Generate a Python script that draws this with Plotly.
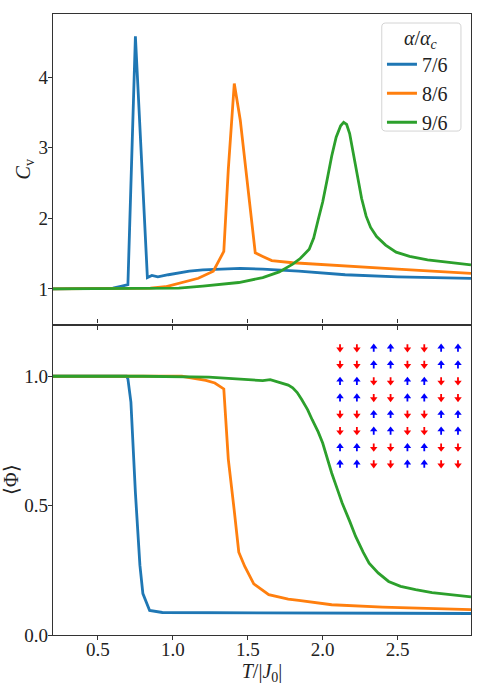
import plotly.graph_objects as go

# ---------------- data ----------------
T_cv_76 = [0.20, 0.30, 0.40, 0.50, 0.60, 0.66, 0.70, 0.75, 0.83, 0.86, 0.90, 0.97, 1.04, 1.11, 1.20, 1.31, 1.45, 1.60, 1.84, 2.15, 2.50, 2.99]
Cv_76 = [1.00, 1.00, 1.00, 1.00, 1.01, 1.04, 1.06, 4.58, 1.16, 1.19, 1.17, 1.20, 1.23, 1.25, 1.27, 1.28, 1.29, 1.28, 1.25, 1.20, 1.17, 1.15]

T_cv_86 = [0.20, 0.50, 0.70, 0.85, 0.95, 1.04, 1.17, 1.27, 1.34, 1.37, 1.41, 1.45, 1.51, 1.55, 1.60, 1.66, 1.80, 2.15, 2.50, 2.99]
Cv_86 = [1.00, 1.00, 1.00, 1.01, 1.03, 1.08, 1.15, 1.25, 1.53, 2.69, 3.91, 3.39, 2.22, 1.51, 1.46, 1.40, 1.37, 1.33, 1.28, 1.22]

T_cv_96 = [0.20, 0.60, 0.90, 1.04, 1.20, 1.44, 1.60, 1.71, 1.80, 1.85, 1.91, 1.94, 1.97, 2.00, 2.03, 2.06, 2.09, 2.12, 2.14, 2.16, 2.18, 2.20, 2.23, 2.26, 2.29, 2.32, 2.36, 2.42, 2.49, 2.58, 2.70, 2.85, 2.99]
Cv_96 = [1.00, 1.00, 1.00, 1.01, 1.04, 1.09, 1.16, 1.24, 1.35, 1.43, 1.56, 1.72, 1.98, 2.23, 2.55, 2.88, 3.15, 3.31, 3.36, 3.33, 3.20, 2.98, 2.62, 2.28, 2.03, 1.87, 1.74, 1.62, 1.52, 1.46, 1.41, 1.37, 1.34]

T_phi_76 = [0.20, 0.50, 0.69, 0.70, 0.72, 0.75, 0.78, 0.80, 0.845, 0.93, 1.20, 1.60, 2.00, 2.50, 2.99]
Phi_76 = [1.00, 1.00, 1.00, 0.99, 0.90, 0.55, 0.27, 0.16, 0.095, 0.087, 0.086, 0.086, 0.085, 0.084, 0.083]

T_phi_86 = [0.20, 0.60, 1.06, 1.22, 1.28, 1.34, 1.37, 1.41, 1.44, 1.48, 1.54, 1.64, 1.77, 1.84, 2.06, 2.40, 2.99]
Phi_86 = [1.00, 1.00, 1.00, 0.984, 0.974, 0.951, 0.68, 0.48, 0.32, 0.265, 0.198, 0.156, 0.139, 0.134, 0.117, 0.108, 0.098]

T_phi_96 = [0.20, 0.80, 1.24, 1.50, 1.60, 1.65, 1.73, 1.77, 1.80, 1.83, 1.86, 1.90, 1.93, 1.97, 2.00, 2.03, 2.06, 2.10, 2.13, 2.18, 2.22, 2.27, 2.31, 2.37, 2.44, 2.52, 2.62, 2.73, 2.84, 2.99]
Phi_96 = [1.00, 1.00, 0.997, 0.987, 0.983, 0.987, 0.974, 0.966, 0.955, 0.937, 0.91, 0.87, 0.832, 0.785, 0.742, 0.685, 0.626, 0.56, 0.51, 0.44, 0.381, 0.32, 0.278, 0.24, 0.207, 0.188, 0.175, 0.164, 0.156, 0.147]

series_names = ["7/6", "8/6", "9/6"]
series_colors = ["#1f77b4", "#ff7f0e", "#2ca02c"]
legend_title = "<i>α</i>/<i>α</i><sub><i>c</i></sub>"

x_ticks = [0.5, 1.0, 1.5, 2.0, 2.5]
x_ticklabels = ["0.5", "1.0", "1.5", "2.0", "2.5"]
cv_ticks = [1, 2, 3, 4]
phi_ticks = [0.0, 0.5, 1.0]
phi_ticklabels = ["0.0", "0.5", "1.0"]

spins = [
    [-1, -1, 1, 1, -1, -1, 1, 1],
    [-1, -1, 1, 1, -1, -1, 1, 1],
    [1, 1, -1, -1, 1, 1, -1, -1],
    [1, 1, -1, -1, 1, 1, -1, -1],
    [-1, -1, 1, 1, -1, -1, 1, 1],
    [-1, -1, 1, 1, -1, -1, 1, 1],
    [1, 1, -1, -1, 1, 1, -1, -1],
    [1, 1, -1, -1, 1, 1, -1, -1],
]

# ---------------- figure ----------------
FONT = "Liberation Serif"
AX = "#333333"
TXT = "#222222"
fig = go.Figure()

cv_sets = [(T_cv_76, Cv_76), (T_cv_86, Cv_86), (T_cv_96, Cv_96)]
phi_sets = [(T_phi_76, Phi_76), (T_phi_86, Phi_86), (T_phi_96, Phi_96)]

for (tx, ty), name, col in zip(cv_sets, series_names, series_colors):
    fig.add_trace(go.Scatter(x=tx, y=ty, mode="lines", name=name,
                             line=dict(color=col, width=2.8),
                             xaxis="x", yaxis="y", showlegend=True))
for (tx, ty), name, col in zip(phi_sets, series_names, series_colors):
    fig.add_trace(go.Scatter(x=tx, y=ty, mode="lines", name=name,
                             line=dict(color=col, width=2.8),
                             xaxis="x2", yaxis="y2", showlegend=False))

# spin inset: stems (lines) + heads (triangle markers)
half = 0.23       # half arrow length in lattice units
head_off = 0.16   # marker center offset from arrow tip
for sval, colr, sym in [(1, "blue", "triangle-up"), (-1, "red", "triangle-down")]:
    sx, sy, hx, hy = [], [], [], []
    for r, row in enumerate(spins):
        for c, s in enumerate(row):
            if s != sval:
                continue
            tail = r + half * s
            tip = r - half * s
            hc = tip + head_off * s
            sx += [c, c, None]
            sy += [tail, hc, None]
            hx.append(c)
            hy.append(hc)
    fig.add_trace(go.Scatter(x=sx, y=sy, mode="lines", line=dict(color=colr, width=1.8),
                             xaxis="x3", yaxis="y3", showlegend=False, hoverinfo="skip"))
    fig.add_trace(go.Scatter(x=hx, y=hy, mode="markers",
                             marker=dict(symbol=sym, size=6.5, color=colr, line=dict(width=0)),
                             xaxis="x3", yaxis="y3", showlegend=False, hoverinfo="skip"))

axis_common = dict(showline=True, linecolor=AX, linewidth=1.3, mirror=True,
                   ticks="outside", ticklen=4, tickwidth=1.3, tickcolor=AX,
                   showgrid=False, zeroline=False, automargin=False,
                   tickfont=dict(family=FONT, size=19, color=TXT))

# rounded legend frame (paper coordinates)
bx0, bx1, by0, by1 = 0.7865, 0.976, 0.8115, 0.9855
rx, ry = 0.0096, 0.0064
frame_path = (f"M {bx0+rx},{by1} L {bx1-rx},{by1} Q {bx1},{by1} {bx1},{by1-ry} "
              f"L {bx1},{by0+ry} Q {bx1},{by0} {bx1-rx},{by0} "
              f"L {bx0+rx},{by0} Q {bx0},{by0} {bx0},{by0+ry} "
              f"L {bx0},{by1-ry} Q {bx0},{by1} {bx0+rx},{by1} Z")

fig.update_layout(
    width=478, height=686,
    margin=dict(l=53, r=7, t=14, b=51, autoexpand=False),
    paper_bgcolor="white", plot_bgcolor="rgba(0,0,0,0)",
    font=dict(family=FONT, size=19, color=TXT),
    xaxis=dict(axis_common, domain=[0, 1], anchor="y", range=[0.2, 2.99],
               tickvals=x_ticks, ticktext=x_ticklabels, showticklabels=False),
    yaxis=dict(axis_common, domain=[0.5, 1], anchor="x", range=[0.495, 4.895],
               tickvals=cv_ticks, ticktext=[str(v) for v in cv_ticks], ticklabelstandoff=-4,
               title=dict(text="<i>C</i><sub>v</sub>", font=dict(family=FONT, size=20), standoff=2)),
    xaxis2=dict(axis_common, domain=[0, 1], anchor="y2", matches="x", range=[0.2, 2.99],
                mirror="ticks", ticklabelstandoff=-7,
                tickvals=x_ticks, ticktext=x_ticklabels,
                title=dict(text="<i>T</i>/|<i>J</i><sub>0</sub>|", font=dict(family=FONT, size=20), standoff=4)),
    yaxis2=dict(axis_common, domain=[0, 0.5], anchor="x2", range=[0, 1.2],
                tickvals=phi_ticks, ticktext=phi_ticklabels, ticklabelstandoff=-4,
                title=dict(text="⟨Φ⟩", font=dict(family=FONT, size=20), standoff=8)),
    xaxis3=dict(domain=[0.6665, 0.989], anchor="y3", range=[-0.5, 7.5], visible=False),
    yaxis3=dict(domain=[0.262, 0.4755], anchor="x3", range=[7.5, -0.5], visible=False),
    legend=dict(x=0.787, xanchor="left", y=0.9505, yanchor="top",
                bgcolor="rgba(0,0,0,0)", borderwidth=0,
                font=dict(family=FONT, size=20, color=TXT),
                itemwidth=30, tracegroupgap=0),
    shapes=[dict(type="path", xref="paper", yref="paper", path=frame_path,
                 line=dict(color="#d4d4d4", width=1), fillcolor="rgba(255,255,255,0.85)",
                 layer="below")],
    annotations=[dict(text=legend_title, xref="paper", yref="paper",
                      x=0.881, y=0.9585, xanchor="center", yanchor="middle",
                      showarrow=False, font=dict(family=FONT, size=20, color=TXT))],
)

fig.write_html("out.html")
